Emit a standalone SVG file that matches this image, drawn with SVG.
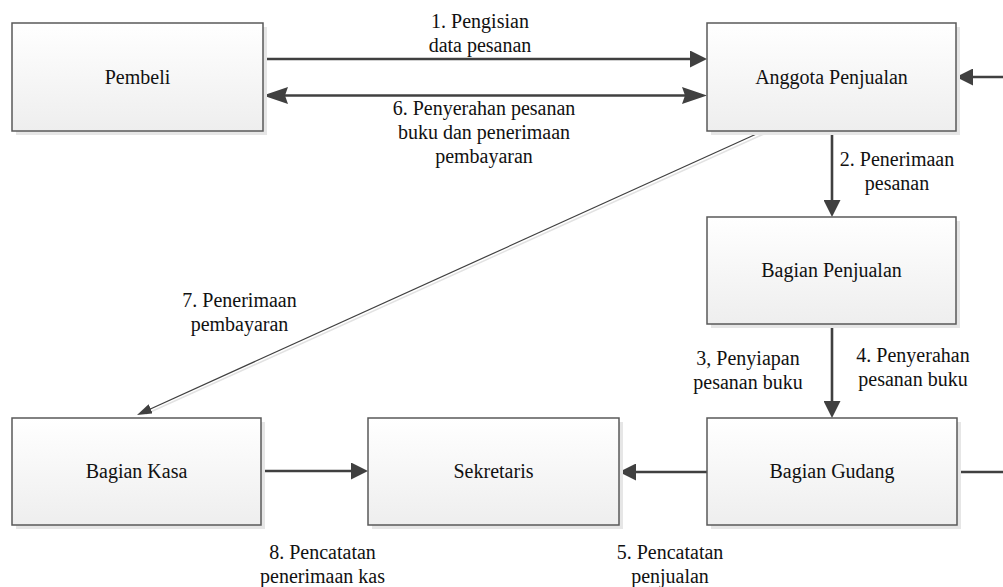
<svg xmlns="http://www.w3.org/2000/svg" width="1003" height="587" viewBox="0 0 1003 587" font-family="Liberation Serif, Tinos, Times New Roman, serif">
<defs>
<linearGradient id="g" x1="0" y1="0" x2="0" y2="1">
<stop offset="0" stop-color="#ffffff"/>
<stop offset="1" stop-color="#eeeeee"/>
</linearGradient>
<marker id="arr" viewBox="0 0 17 17" refX="7" refY="8.5" markerWidth="17" markerHeight="17" markerUnits="userSpaceOnUse" orient="auto">
<path d="M0,0 L17,8.5 L0,17 z" fill="#404040"/>
</marker>
<marker id="arrL" viewBox="0 0 25 17" refX="13" refY="8.5" markerWidth="25" markerHeight="17" markerUnits="userSpaceOnUse" orient="auto-start-reverse">
<path d="M0,0 L25,8.5 L0,17 L3,8.5 z" fill="#404040"/>
</marker>
<marker id="arrS" viewBox="0 0 15 10" refX="7" refY="5" markerWidth="15" markerHeight="10" markerUnits="userSpaceOnUse" orient="auto">
<path d="M0,0 L15,5 L0,10 z" fill="#404040"/>
</marker>
</defs>
<style>
.box{fill:url(#g);stroke:#595959;stroke-width:1.5}
.sh{fill:#e6e6e6}
.t{font-size:20px;fill:#111;text-anchor:middle}
.c{stroke:#404040;stroke-width:2.6;fill:none}
.d{stroke:#404040;stroke-width:1.2;fill:none}
.ds{stroke:#e2e2e2;stroke-width:1.5;fill:none}
</style>
<rect width="1003" height="587" fill="#ffffff"/>
<g id="connectors">
<line class="c" x1="263" y1="59" x2="697" y2="59" marker-end="url(#arr)"/>
<line class="c" x1="275" y1="95.5" x2="695" y2="95.5" marker-start="url(#arrL)" marker-end="url(#arrL)"/>
<line class="c" x1="1003" y1="77" x2="966" y2="77" marker-end="url(#arr)"/>
<line class="c" x1="832" y1="131" x2="832" y2="207" marker-end="url(#arr)"/>
<line class="c" x1="832" y1="324" x2="832" y2="408" marker-end="url(#arr)"/>
<line class="c" x1="707" y1="472" x2="629" y2="472" marker-end="url(#arr)"/>
<line class="c" x1="261" y1="471" x2="358" y2="471" marker-end="url(#arr)"/>
<line class="c" x1="957" y1="472" x2="1003" y2="472"/>
<line class="ds" x1="766" y1="133" x2="146" y2="414"/>
<line class="d" x1="763" y1="131" x2="144.3" y2="411.7" marker-end="url(#arrS)"/>
</g>
<g id="pembeli">
<rect class="sh" x="16" y="27" width="251" height="108"/>
<rect class="box" x="12" y="23" width="251" height="108"/>
<text class="t" x="137.5" y="84">Pembeli</text>
</g>
<g id="anggota-penjualan">
<rect class="sh" x="711" y="27" width="249" height="108"/>
<rect class="box" x="707" y="23" width="249" height="108"/>
<text class="t" x="831.5" y="84">Anggota Penjualan</text>
</g>
<g id="bagian-penjualan">
<rect class="sh" x="711" y="221" width="249" height="107"/>
<rect class="box" x="707" y="217" width="249" height="107"/>
<text class="t" x="831.5" y="277">Bagian Penjualan</text>
</g>
<g id="bagian-kasa">
<rect class="sh" x="16" y="422" width="249" height="107"/>
<rect class="box" x="12" y="418" width="249" height="107"/>
<text class="t" x="136.5" y="478">Bagian Kasa</text>
</g>
<g id="sekretaris">
<rect class="sh" x="372" y="422" width="251" height="107"/>
<rect class="box" x="368" y="418" width="251" height="107"/>
<text class="t" x="493.5" y="478">Sekretaris</text>
</g>
<g id="bagian-gudang">
<rect class="sh" x="711" y="422" width="250" height="107"/>
<rect class="box" x="707" y="418" width="250" height="107"/>
<text class="t" x="832" y="478">Bagian Gudang</text>
</g>
<g id="labels">
<text class="t" x="480" y="28">1. Pengisian</text>
<text class="t" x="480" y="52">data pesanan</text>
<text class="t" x="484" y="115">6. Penyerahan pesanan</text>
<text class="t" x="484" y="139">buku dan penerimaan</text>
<text class="t" x="484" y="163">pembayaran</text>
<text class="t" x="897" y="166">2. Penerimaan</text>
<text class="t" x="897" y="190">pesanan</text>
<text class="t" x="239.5" y="307">7. Penerimaan</text>
<text class="t" x="239.5" y="331">pembayaran</text>
<text class="t" x="748" y="365">3, Penyiapan</text>
<text class="t" x="748" y="389">pesanan buku</text>
<text class="t" x="913" y="362">4. Penyerahan</text>
<text class="t" x="913" y="386">pesanan buku</text>
<text class="t" x="322.5" y="559">8. Pencatatan</text>
<text class="t" x="322.5" y="583">penerimaan kas</text>
<text class="t" x="670" y="559">5. Pencatatan</text>
<text class="t" x="670" y="583">penjualan</text>
</g>
</svg>
